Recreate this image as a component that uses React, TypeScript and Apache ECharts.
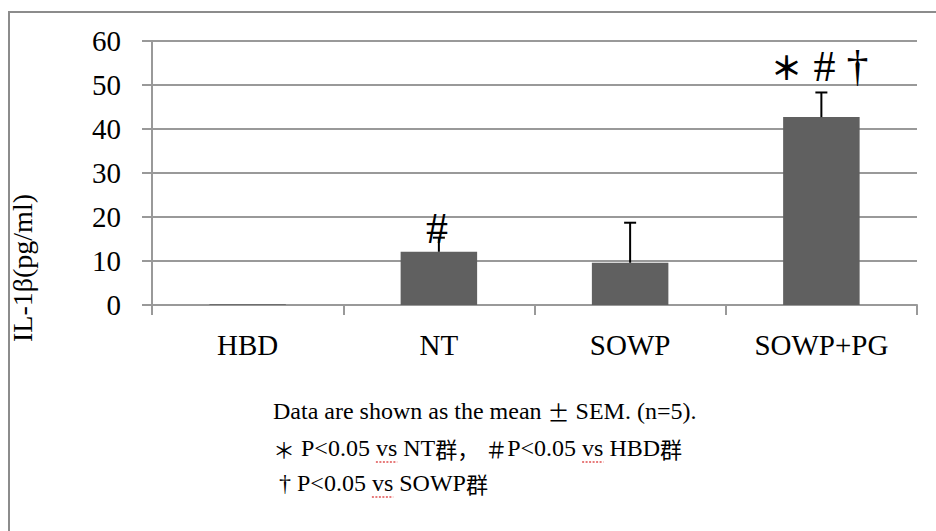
import React, { useEffect, useRef } from "react";
import * as echarts from "echarts";

// Groups and IL-1β measurements (mean and SEM, pg/ml)
const categories = ["HBD", "NT", "SOWP", "SOWP+PG"];
const means = [0.15, 12.1, 9.6, 42.7];
const sems = [0, 3.2, 9.1, 5.6];

// Significance marks placed above the bars
const markGroups = ["NT", "SOWP+PG"];
const markLevels = [17.4, 54.3];
const markTexts = ["#", "{a|＊} # †"];

const yTicks = { min: 0, max: 60, interval: 10 };

// Footnote lines as segments: c = CJK glyphs, u = word with a spell-check underline
type Seg = { t: string; c?: boolean; u?: boolean };
const footnotes: Seg[][] = [
  [{ t: "Data are shown as the mean " }, { t: "±", c: true }, { t: " SEM. (n=5)." }],
  [
    { t: "＊", c: true },
    { t: " P<0.05 " },
    { t: "vs", u: true },
    { t: " NT" },
    { t: "群，", c: true },
    { t: " " },
    { t: "＃", c: true },
    { t: "P<0.05 " },
    { t: "vs", u: true },
    { t: " HBD" },
    { t: "群", c: true },
  ],
  [{ t: " † P<0.05 " }, { t: "vs", u: true }, { t: " SOWP" }, { t: "群", c: true }],
];

const SERIF = "Liberation Serif, Times New Roman, serif";
const CJK = "Noto Sans CJK JP, sans-serif";
const NOTE_SIZE = 24;
const NOTE_CJK_SIZE = 22;

export default function App() {
  const ref = useRef<HTMLDivElement>(null);

  useEffect(() => {
    if (!ref.current) return;
    const chart = echarts.init(ref.current, null, { renderer: "svg" });

    const errorData = categories.map((c, i) => [i, means[i], means[i] + sems[i]]);
    const markData = markGroups.map((g, i) => [categories.indexOf(g), markLevels[i], i]);

    // measure footnote segments so the underlines sit under "vs"
    const ctx = document.createElement("canvas").getContext("2d")!;
    const noteX = 273;
    const noteY = [411, 448, 483];
    const noteGraphics: any[] = [];
    footnotes.forEach((segs, li) => {
      let x = noteX;
      const text = segs
        .map((s) => {
          const size = s.c ? NOTE_CJK_SIZE : NOTE_SIZE;
          ctx.font = `${size}px ${s.c ? CJK : SERIF}`;
          const w = ctx.measureText(s.t).width;
          if (s.u) {
            noteGraphics.push({
              type: "line",
              shape: { x1: x, y1: noteY[li] + 14, x2: x + w, y2: noteY[li] + 14 },
              style: { stroke: "#e05050", lineWidth: 1.5, lineDash: [2, 1.5] },
              silent: true,
            });
          }
          x += w;
          return s.c ? `{c|${s.t}}` : s.t;
        })
        .join("");
      noteGraphics.push({
        type: "text",
        x: noteX,
        y: noteY[li],
        style: {
          text,
          fontFamily: SERIF,
          fontSize: NOTE_SIZE,
          fill: "#000",
          verticalAlign: "middle",
          rich: { c: { fontFamily: CJK, fontSize: NOTE_CJK_SIZE } },
        },
        silent: true,
      });
    });

    chart.setOption({
      animation: false,
      backgroundColor: "#ffffff",
      grid: { left: 147, right: 19, top: 41, bottom: 226, containLabel: false },
      xAxis: {
        type: "category",
        data: categories,
        axisLine: { show: true, lineStyle: { color: "#999999", width: 2 } },
        axisTick: { show: true, length: 10, lineStyle: { color: "#999999", width: 2 } },
        axisLabel: { color: "#000", fontFamily: SERIF, fontSize: 29, margin: 25 },
      },
      yAxis: {
        type: "value",
        min: yTicks.min,
        max: yTicks.max,
        interval: yTicks.interval,
        name: "IL-1β(pg/ml)",
        nameLocation: "middle",
        nameRotate: 90,
        nameGap: 116,
        nameTextStyle: { color: "#000", fontFamily: SERIF, fontSize: 28, padding: [0, 0, 0, -190] },
        axisLine: { show: true, lineStyle: { color: "#999999", width: 2 } },
        axisTick: { show: true, length: 10, lineStyle: { color: "#999999", width: 2 } },
        splitLine: { show: true, lineStyle: { color: "#999999", width: 2 } },
        axisLabel: { color: "#000", fontFamily: SERIF, fontSize: 29, margin: 31 },
      },
      series: [
        {
          type: "bar",
          data: means,
          barWidth: "40%",
          itemStyle: { color: "#606060" },
          silent: true,
        },
        {
          type: "custom",
          data: errorData,
          silent: true,
          z: 3,
          renderItem: (params: any, api: any) => {
            const i = api.value(0);
            const top = api.coord([i, api.value(2)]);
            const base = api.coord([i, api.value(1)]);
            if (api.value(2) - api.value(1) <= 0) return { type: "group", children: [] };
            const half = 6;
            return {
              type: "group",
              children: [
                {
                  type: "line",
                  shape: { x1: top[0], y1: base[1], x2: top[0], y2: top[1] },
                  style: { stroke: "#000", lineWidth: 2 },
                },
                {
                  type: "line",
                  shape: { x1: top[0] - half, y1: top[1], x2: top[0] + half, y2: top[1] },
                  style: { stroke: "#000", lineWidth: 2 },
                },
              ],
            };
          },
        },
        {
          type: "custom",
          data: markData,
          silent: true,
          z: 4,
          renderItem: (params: any, api: any) => {
            const p = api.coord([api.value(0), api.value(1)]);
            return {
              type: "text",
              x: p[0] - 2,
              y: p[1],
              style: {
                text: markTexts[api.value(2)],
                fontFamily: SERIF,
                fontSize: 44,
                fill: "#000",
                align: "center",
                verticalAlign: "middle",
                rich: {
                  a: { fontFamily: CJK, fontSize: 32, fontWeight: "bold" },
                },
              },
            };
          },
        },
      ],
      graphic: [
        {
          type: "rect",
          shape: { x: 9, y: 12, width: 960, height: 560 },
          style: { fill: "none", stroke: "#8c8c8c", lineWidth: 2 },
          silent: true,
        },
        ...noteGraphics,
      ],
    });

    return () => chart.dispose();
  }, []);

  return (
    <div
      ref={ref}
      style={{ position: "absolute", left: 0, top: 0, width: 936, height: 531, background: "#fff" }}
    />
  );
}
